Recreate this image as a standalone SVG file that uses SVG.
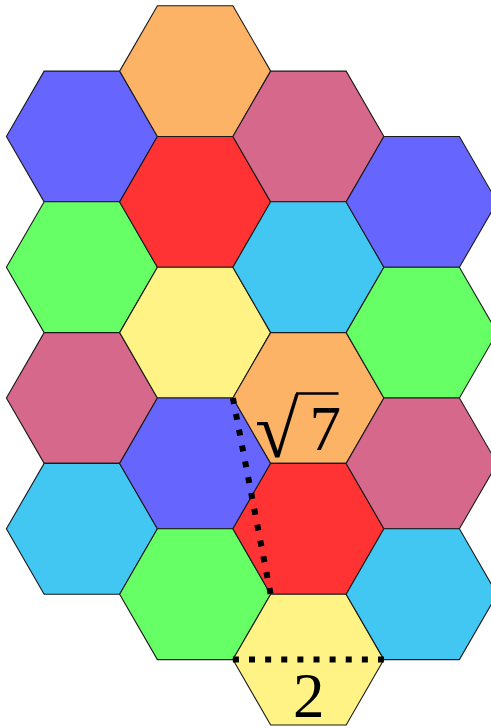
<svg xmlns="http://www.w3.org/2000/svg" xmlns:xlink="http://www.w3.org/1999/xlink" width="491" height="728" viewBox="0 0 491 728">
<style>
.hx{stroke:#1a1a1a;stroke-width:1.1;stroke-linejoin:miter}
.orange{fill:#FDB366}.pink{fill:#D6688C}.blue{fill:#6666FF}.red{fill:#FF3333}
.cyan{fill:#42C7F2}.green{fill:#66FF66}.yellow{fill:#FFF385}
.dot{stroke:#000;stroke-width:6;stroke-dasharray:6 10.12;fill:none}
.lbl{font-family:"Liberation Serif","DejaVu Serif",serif;font-size:63px;fill:#000}
</style>
<defs>
<polygon id="hex" points="-75.5,0 -37.75,-65.385 37.75,-65.385 75.5,0 37.75,65.385 -37.75,65.385"/>
</defs>
<rect width="491" height="728" fill="#fff"/>
<g id="nodes">
<g id="c0r0" transform="translate(81.9,136.5)"><use xlink:href="#hex" class="hx blue"/></g>
<g id="c0r1" transform="translate(81.9,267.2)"><use xlink:href="#hex" class="hx green"/></g>
<g id="c0r2" transform="translate(81.9,398.0)"><use xlink:href="#hex" class="hx pink"/></g>
<g id="c0r3" transform="translate(81.9,528.8)"><use xlink:href="#hex" class="hx cyan"/></g>
<g id="c1r0" transform="translate(195.15,71.1)"><use xlink:href="#hex" class="hx orange"/></g>
<g id="c1r1" transform="translate(195.15,201.9)"><use xlink:href="#hex" class="hx red"/></g>
<g id="c1r2" transform="translate(195.15,332.6)"><use xlink:href="#hex" class="hx yellow"/></g>
<g id="c1r3" transform="translate(195.15,463.4)"><use xlink:href="#hex" class="hx blue"/></g>
<g id="c1r4" transform="translate(195.15,594.2)"><use xlink:href="#hex" class="hx green"/></g>
<g id="c2r0" transform="translate(308.4,136.5)"><use xlink:href="#hex" class="hx pink"/></g>
<g id="c2r1" transform="translate(308.4,267.2)"><use xlink:href="#hex" class="hx cyan"/></g>
<g id="c2r2" transform="translate(308.4,398.0)"><use xlink:href="#hex" class="hx orange"/></g>
<g id="c2r3" transform="translate(308.4,528.8)"><use xlink:href="#hex" class="hx red"/></g>
<g id="c2r4" transform="translate(308.4,659.6)"><use xlink:href="#hex" class="hx yellow"/></g>
<g id="c3r0" transform="translate(421.65,201.9)"><use xlink:href="#hex" class="hx blue"/></g>
<g id="c3r1" transform="translate(421.65,332.6)"><use xlink:href="#hex" class="hx green"/></g>
<g id="c3r2" transform="translate(421.65,463.4)"><use xlink:href="#hex" class="hx pink"/></g>
<g id="c3r3" transform="translate(421.65,594.2)"><use xlink:href="#hex" class="hx cyan"/></g>
</g>
<g id="connectors">
<line class="dot" x1="232.9" y1="398.0" x2="270.65" y2="594.2"/>
<line class="dot" x1="232.9" y1="659.6" x2="383.9" y2="659.6"/>
</g>
<g id="labels">
<line x1="296" y1="393.5" x2="338.5" y2="393.5" stroke="#000" stroke-width="2.6"/>
<text class="lbl" x="255" y="456.5" style="font-size:80px">√<tspan x="309.5" y="450" style="font-size:63px">7</tspan></text>
<text class="lbl" x="308.8" y="716.7" text-anchor="middle">2</text>
</g>
</svg>
